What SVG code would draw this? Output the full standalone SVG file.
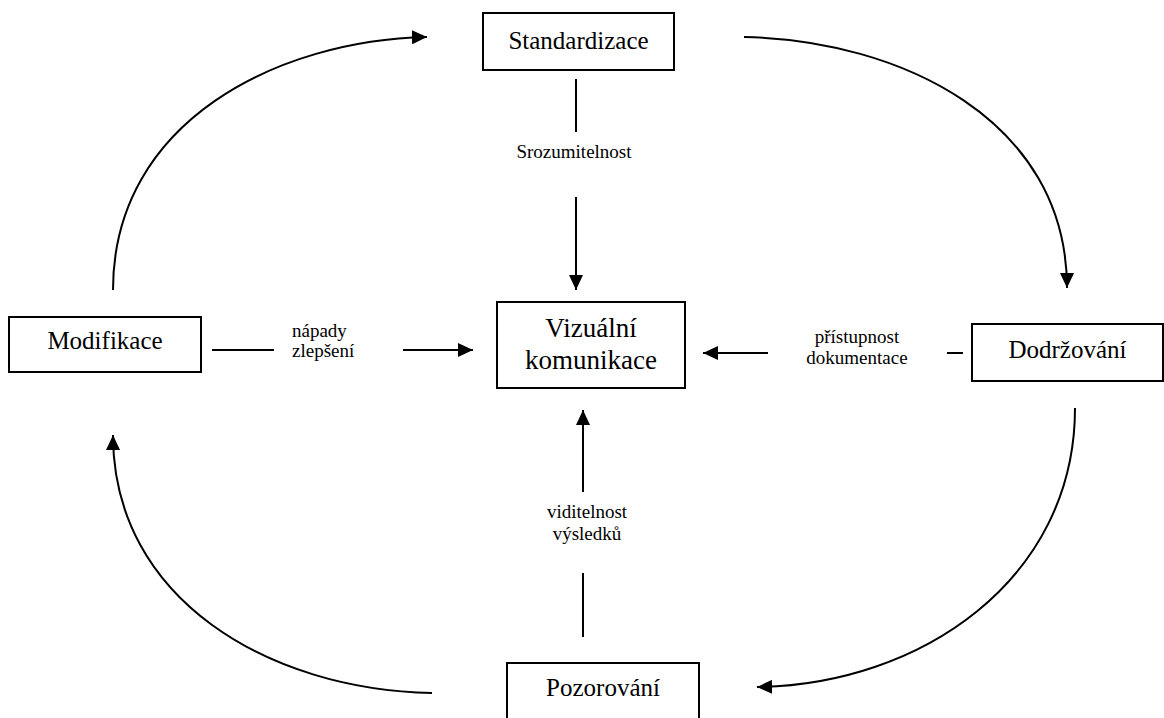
<svg xmlns="http://www.w3.org/2000/svg" width="1164" height="718" viewBox="0 0 1164 718">
<defs>
<marker id="ah" markerUnits="userSpaceOnUse" markerWidth="16" markerHeight="14" refX="15" refY="7" orient="auto">
<path d="M0,0 L15,7 L0,14 Z" fill="#000"/>
</marker>
<style>
.box{fill:#fff;stroke:#000;stroke-width:2}
.nt{font-family:"Liberation Serif","Times New Roman",serif;font-size:25px;fill:#000;text-anchor:middle}
.lb{font-family:"Liberation Serif","Times New Roman",serif;font-size:19px;fill:#000}
.ln{fill:none;stroke:#000;stroke-width:2}
</style>
</defs>
<rect width="1164" height="718" fill="#fff"/>
<g id="connectors">
<path class="ln" d="M113,290 C113,120 280,40 427,37" marker-end="url(#ah)"/>
<path class="ln" d="M744,37 C900,40 1067,120 1067,288" marker-end="url(#ah)"/>
<path class="ln" d="M1075,408 C1075,580 920,685 757,687" marker-end="url(#ah)"/>
<path class="ln" d="M432,693 C270,690 113,600 113,435" marker-end="url(#ah)"/>
<line class="ln" x1="576" y1="79" x2="576" y2="132"/>
<line class="ln" x1="576" y1="197" x2="576" y2="290" marker-end="url(#ah)"/>
<line class="ln" x1="583" y1="637" x2="583" y2="573"/>
<line class="ln" x1="583" y1="492" x2="583" y2="410" marker-end="url(#ah)"/>
<line class="ln" x1="212" y1="350" x2="274" y2="350"/>
<line class="ln" x1="403" y1="350" x2="473" y2="350" marker-end="url(#ah)"/>
<line class="ln" x1="963" y1="353" x2="947" y2="353"/>
<line class="ln" x1="768" y1="353" x2="703" y2="353" marker-end="url(#ah)"/>
<text class="lb" x="574" y="158" text-anchor="middle">Srozumitelnost</text>
<text class="lb" x="292" y="337">nápady</text>
<text class="lb" x="292" y="357">zlepšení</text>
<text class="lb" x="857" y="343" text-anchor="middle">přístupnost</text>
<text class="lb" x="857" y="364" text-anchor="middle">dokumentace</text>
<text class="lb" x="587" y="518" text-anchor="middle">viditelnost</text>
<text class="lb" x="587" y="540" text-anchor="middle">výsledků</text>
</g>
<g id="standardizace">
<rect class="box" x="483" y="13" width="191" height="57"/>
<text class="nt" x="578.5" y="49">Standardizace</text>
</g>
<g id="vizualni-komunikace">
<rect class="box" x="497" y="302" width="188" height="86"/>
<text class="nt" x="591" y="337" style="font-size:27px">Vizuální</text>
<text class="nt" x="591" y="369" style="font-size:27px">komunikace</text>
</g>
<g id="dodrzovani">
<rect class="box" x="972" y="324" width="191" height="57"/>
<text class="nt" x="1067.5" y="358">Dodržování</text>
</g>
<g id="modifikace">
<rect class="box" x="9" y="317" width="192" height="55"/>
<text class="nt" x="105" y="349">Modifikace</text>
</g>
<g id="pozorovani">
<rect class="box" x="507" y="663" width="192" height="70"/>
<text class="nt" x="603" y="696">Pozorování</text>
</g>
</svg>
